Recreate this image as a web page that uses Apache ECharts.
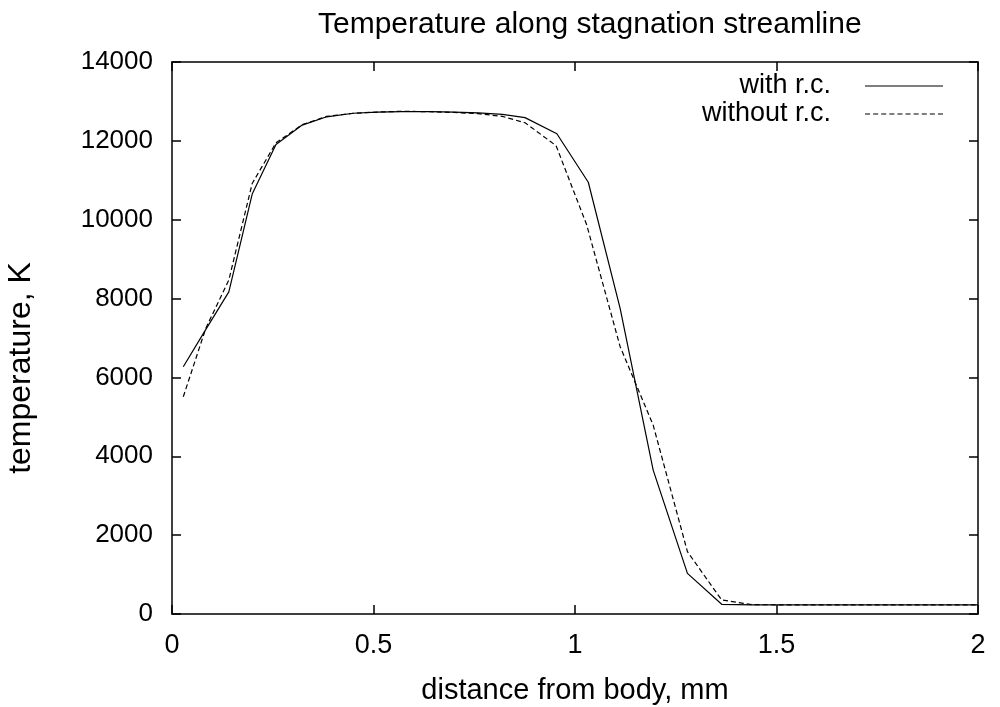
<!DOCTYPE html>
<html>
<head>
<meta charset="utf-8">
<script src="https://cdn.jsdelivr.net/npm/echarts@6/dist/echarts.min.js"></script>
<style>html,body{margin:0;padding:0;background:#fff}#c{width:1000px;height:707px}</style>
</head>
<body>
<div id="c"></div>
<script>
var titleText = 'Temperature along stagnation streamline';
var xName = 'distance from body, mm';
var yName = 'temperature, K';
var seriesNames = ['with r.c.', 'without r.c.'];

var xWith = [0.028, 0.084, 0.141, 0.199, 0.258, 0.323, 0.384, 0.45, 0.51, 0.57, 0.64, 0.70, 0.76, 0.82, 0.876, 0.955, 1.033, 1.112, 1.194, 1.279, 1.364, 1.44, 1.6, 1.8, 2.0];
var yWith = [6270, 7220, 8170, 10650, 11910, 12400, 12610, 12700, 12730, 12740, 12740, 12730, 12710, 12670, 12590, 12180, 10950, 7750, 3650, 1030, 246, 230, 230, 230, 230];

var xWithout = [0.028, 0.084, 0.141, 0.199, 0.258, 0.323, 0.384, 0.45, 0.51, 0.57, 0.64, 0.70, 0.76, 0.82, 0.876, 0.953, 1.029, 1.112, 1.194, 1.279, 1.364, 1.44, 1.6, 1.8, 2.0];
var yWithout = [5510, 7250, 8470, 10920, 11950, 12410, 12620, 12700, 12730, 12750, 12740, 12720, 12690, 12620, 12460, 11880, 9870, 6780, 4790, 1580, 355, 236, 230, 230, 230];

function pairs(xs, ys) { return xs.map(function (x, i) { return [x, ys[i]]; }); }

var solidIcon = 'path://M0,0H80V1H0Z';
var dashedIcon = 'path://M0,0H5V1H0Z M8,0H13V1H8Z M16,0H21V1H16Z M24,0H29V1H24Z M32,0H37V1H32Z M40,0H45V1H40Z M48,0H53V1H48Z M56,0H61V1H56Z M64,0H69V1H64Z M72,0H77V1H72Z';

var font = 'Liberation Sans, Arial, Helvetica, sans-serif';
var chart = echarts.init(document.getElementById('c'));
var axisLine = { show: true, onZero: false, lineStyle: { color: '#000', width: 1.5 } };
var tick = { show: true, inside: true, length: 9, lineStyle: { color: '#000', width: 1.5 } };
chart.setOption({
  animation: false,
  backgroundColor: '#fff',
  title: { text: titleText, left: 313, top: 5, textStyle: { fontFamily: font, fontSize: 30, fontWeight: 'normal', color: '#000' } },
  grid: { left: 172, right: 22, top: 62, bottom: 93, containLabel: false, outerBoundsMode: 'none' },
  legend: {
    data: [
      { name: seriesNames[0], icon: solidIcon },
      { name: seriesNames[1], icon: dashedIcon }
    ],
    orient: 'vertical', right: 57, top: 72, align: 'right',
    itemWidth: 78, itemHeight: 1.5, itemGap: 0, padding: 0,
    itemStyle: { color: '#000' },
    textStyle: { fontFamily: font, fontSize: 27, lineHeight: 28, color: '#000', padding: [0, 29, 0, 0] }
  },
  xAxis: [
    { type: 'value', min: 0, max: 2, interval: 0.5, name: xName, nameLocation: 'middle', nameGap: 62,
      nameTextStyle: { fontFamily: font, fontSize: 29, color: '#000' },
      axisLine: axisLine, axisTick: tick, splitLine: { show: false },
      axisLabel: { fontFamily: font, fontSize: 27, color: '#000', margin: 18 } },
    { type: 'value', position: 'top', min: 0, max: 2, interval: 0.5, axisLine: axisLine, axisTick: tick, axisLabel: { show: false }, splitLine: { show: false } }
  ],
  yAxis: [
    { type: 'value', min: 0, max: 14000, interval: 2000, name: yName, nameLocation: 'middle', nameGap: 135,
      nameTextStyle: { fontFamily: font, fontSize: 32, color: '#000', padding: [0, 60, 0, 0] },
      axisLine: axisLine, axisTick: tick, splitLine: { show: false },
      axisLabel: { fontFamily: font, fontSize: 26, color: '#000', margin: 19, formatter: function (v) { return String(v); } } },
    { type: 'value', position: 'right', min: 0, max: 14000, interval: 2000, axisLine: axisLine, axisTick: tick, axisLabel: { show: false }, splitLine: { show: false } }
  ],
  series: [
    { name: seriesNames[0], type: 'line', data: pairs(xWith, yWith), showSymbol: false, symbol: 'none',
      lineStyle: { color: '#000', width: 1.2, type: 'solid' }, itemStyle: { color: '#000' } },
    { name: seriesNames[1], type: 'line', data: pairs(xWithout, yWithout), showSymbol: false, symbol: 'none',
      lineStyle: { color: '#000', width: 1.2, type: [5, 3] }, itemStyle: { color: '#000' } }
  ]
});
</script>
</body>
</html>
